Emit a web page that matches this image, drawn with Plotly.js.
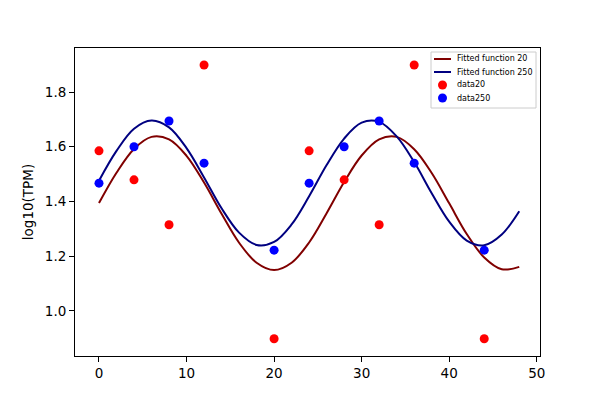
<!DOCTYPE html>
<html>
<head>
<meta charset="utf-8">
<script src="https://cdn.plot.ly/plotly-3.0.1.min.js"></script>
<style>
  body { margin: 0; background: #fff; }
  #chart { width: 600px; height: 400px; }
</style>
</head>
<body>
<div id="chart"></div>
<script>
// sample times (hours) for the measured points
const dataX = [0, 4, 8, 12, 20, 24, 28, 32, 36, 44];
const data20 = [1.585, 1.479, 1.315, 1.899, 0.898, 1.585, 1.479, 1.315, 1.899, 0.898];
const data250 = [1.467, 1.600, 1.694, 1.540, 1.222, 1.467, 1.600, 1.694, 1.540, 1.222];

// fitted curves, every 2 h
const fitX = [0, 2, 4, 6, 8, 10, 12, 14, 16, 18, 20, 22, 24,
              26, 28, 30, 32, 34, 36, 38, 40, 42, 44, 46, 48];
const fit20 = [1.394, 1.505, 1.592, 1.636, 1.627, 1.567, 1.469, 1.355, 1.249, 1.176, 1.149, 1.176, 1.250,
               1.357, 1.471, 1.568, 1.627, 1.636, 1.591, 1.504, 1.393, 1.281, 1.195, 1.152, 1.161];
const fit250 = [1.476, 1.585, 1.666, 1.696, 1.671, 1.595, 1.488, 1.375, 1.286, 1.241, 1.252, 1.316, 1.419,
                1.533, 1.630, 1.688, 1.691, 1.638, 1.544, 1.430, 1.326, 1.257, 1.240, 1.279, 1.364];

const seriesNames = ['Fitted function 20', 'Fitted function 250', 'data20', 'data250'];
const seriesColors = ['#800000', '#000080', '#ff0000', '#0000ff'];

const traces = [
  {
    x: fitX, y: fit20, type: 'scatter', mode: 'lines', name: seriesNames[0],
    line: { color: seriesColors[0], width: 2, shape: 'spline', smoothing: 1 }
  },
  {
    x: fitX, y: fit250, type: 'scatter', mode: 'lines', name: seriesNames[1],
    line: { color: seriesColors[1], width: 2, shape: 'spline', smoothing: 1 }
  },
  {
    x: dataX, y: data20, type: 'scatter', mode: 'markers', name: seriesNames[2],
    marker: { color: seriesColors[2], size: 9 }
  },
  {
    x: dataX, y: data250, type: 'scatter', mode: 'markers', name: seriesNames[3],
    marker: { color: seriesColors[3], size: 9 }
  }
];

// plot area in pixels (matplotlib default axes box)
const plotL = 75, plotR = 540, plotT = 48, plotB = 356;
const px = v => (v - plotL) / (plotR - plotL);
const py = v => (plotB - v) / (plotB - plotT);

// compact matplotlib-like legend (plotly's own legend rows are too tall)
const shapes = [{
  type: 'rect', xref: 'paper', yref: 'paper',
  x0: px(431), x1: px(536), y0: py(108), y1: py(52),
  fillcolor: 'rgba(255,255,255,0.8)', line: { color: '#cccccc', width: 1 }
}];
const annotations = [];
const rowY = [59, 72, 85, 98];
seriesNames.forEach((name, i) => {
  if (i < 2) {
    shapes.push({
      type: 'line', xref: 'paper', yref: 'paper',
      x0: px(434), x1: px(451), y0: py(rowY[i]), y1: py(rowY[i]),
      line: { color: seriesColors[i], width: 2 }
    });
  } else {
    shapes.push({
      type: 'circle', xref: 'paper', yref: 'paper',
      x0: px(438), x1: px(447), y0: py(rowY[i] + 4.5), y1: py(rowY[i] - 4.5),
      fillcolor: seriesColors[i], line: { width: 0 }
    });
  }
  annotations.push({
    xref: 'paper', yref: 'paper', x: px(455), y: py(rowY[i]),
    xanchor: 'left', yanchor: 'middle', showarrow: false,
    text: name, font: { size: 8, color: '#000' }
  });
});

const axisStyle = {
  showline: true, mirror: true, linecolor: '#000', linewidth: 1,
  ticks: 'outside', ticklen: 5, tickcolor: '#000', tickwidth: 1,
  showgrid: false, zeroline: false,
  tickfont: { size: 13.5, color: '#000' }
};

const layout = {
  width: 600, height: 400,
  margin: { l: plotL, r: 600 - plotR, t: plotT, b: 400 - plotB },
  paper_bgcolor: '#fff', plot_bgcolor: '#fff',
  font: { family: 'DejaVu Sans, sans-serif', color: '#000' },
  showlegend: false,
  shapes: shapes,
  annotations: annotations,
  xaxis: Object.assign({}, axisStyle, {
    range: [-2.74, 50.37], tickvals: [0, 10, 20, 30, 40, 50]
  }),
  yaxis: Object.assign({}, axisStyle, {
    range: [0.835, 1.961], tickvals: [1.0, 1.2, 1.4, 1.6, 1.8], tickformat: '.1f',
    title: { text: 'log10(TPM)', font: { size: 13.5 }, standoff: 8 }
  })
};

Plotly.newPlot('chart', traces, layout, { displayModeBar: false, staticPlot: true });
</script>
</body>
</html>
